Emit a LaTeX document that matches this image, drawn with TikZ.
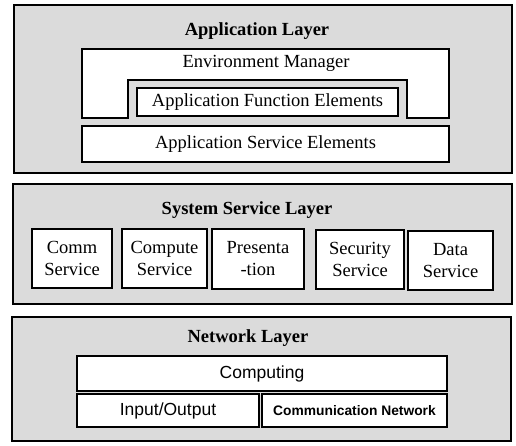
\documentclass[tikz,border=0pt]{standalone}
\usepackage{fontspec}
\setmainfont{Liberation Serif}
\newfontfamily\boxsans{Liberation Sans}
\usetikzlibrary{fit}
\definecolor{screen}{gray}{0.86}
\tikzset{
  layerbox/.style={draw=black, line width=1.8pt, fill=screen, inner sep=0pt},
  elembox/.style={draw=black, line width=2.2pt, fill=white, inner sep=0pt, align=center, font=\fontsize{18.5}{22}\selectfont},
  netbox/.style={elembox, font=\boxsans\fontsize{17.5}{20}\selectfont},
  sized/.style 2 args={minimum width=#1, minimum height=#2},
  layertitle/.style={font=\bfseries\fontsize{18.5}{21}\selectfont, inner sep=1pt},
  boxtext/.style={font=\fontsize{18.5}{21}\selectfont, inner sep=1pt}
}
\begin{document}
\begin{tikzpicture}[x=1pt, y=-1pt]
\useasboundingbox (0,0) rectangle (516,446);

% ---- Application layer ----
\node[layerbox, fit={(14,5) (512,173)}] (app) {};
\node[layertitle] (apptitle) at (257,31) {Application Layer};
% environment manager, with a notch holding the function elements
\draw[line width=2.2pt, fill=white]
  (82,49) -- (449,49) -- (449,118) -- (407,118) -- (407,80)
  -- (128,80) -- (128,118) -- (82,118) -- cycle;
\node[boxtext] (env) at (266,63) {Environment Manager};
\node[elembox, sized={261pt}{28pt}] (afe) at (267.5,102) {Application Function Elements};
\node[elembox, sized={367pt}{36pt}] (ase) at (265.5,144) {Application Service Elements};

% ---- System service layer ----
\node[layerbox, fit={(13,184) (512,304)}] (sys) {};
\node[layertitle] (systitle) at (247,210) {System Service Layer};
\node[elembox, sized={80pt}{59pt}] (comm) at (72,258.5) {Comm\\Service};
\node[elembox, sized={85pt}{59pt}] (compute) at (164.5,258.5) {Compute\\Service};
\node[elembox, sized={92pt}{60pt}] (pres) at (258,259) {Presenta\\-tion};
\node[elembox, sized={88pt}{59pt}] (sec) at (360,259.5) {Security\\Service};
\node[elembox, sized={85pt}{59pt}] (data) at (450.5,260.5) {Data\\Service};

% ---- Network layer ----
\node[layerbox, fit={(12,317) (511,441)}] (net) {};
\node[layertitle] (nettitle) at (248,338) {Network Layer};
\node[netbox, sized={370pt}{35pt}] (computing) at (262,373.5) {Computing};
\node[netbox, sized={182pt}{33pt}] (io) at (168,410.5) {Input/Output};
\node[netbox, sized={185pt}{33pt}, font=\boxsans\bfseries\fontsize{13.8}{16}\selectfont] (commnet) at (354.5,410.5) {Communication Network};
\end{tikzpicture}
\end{document}
